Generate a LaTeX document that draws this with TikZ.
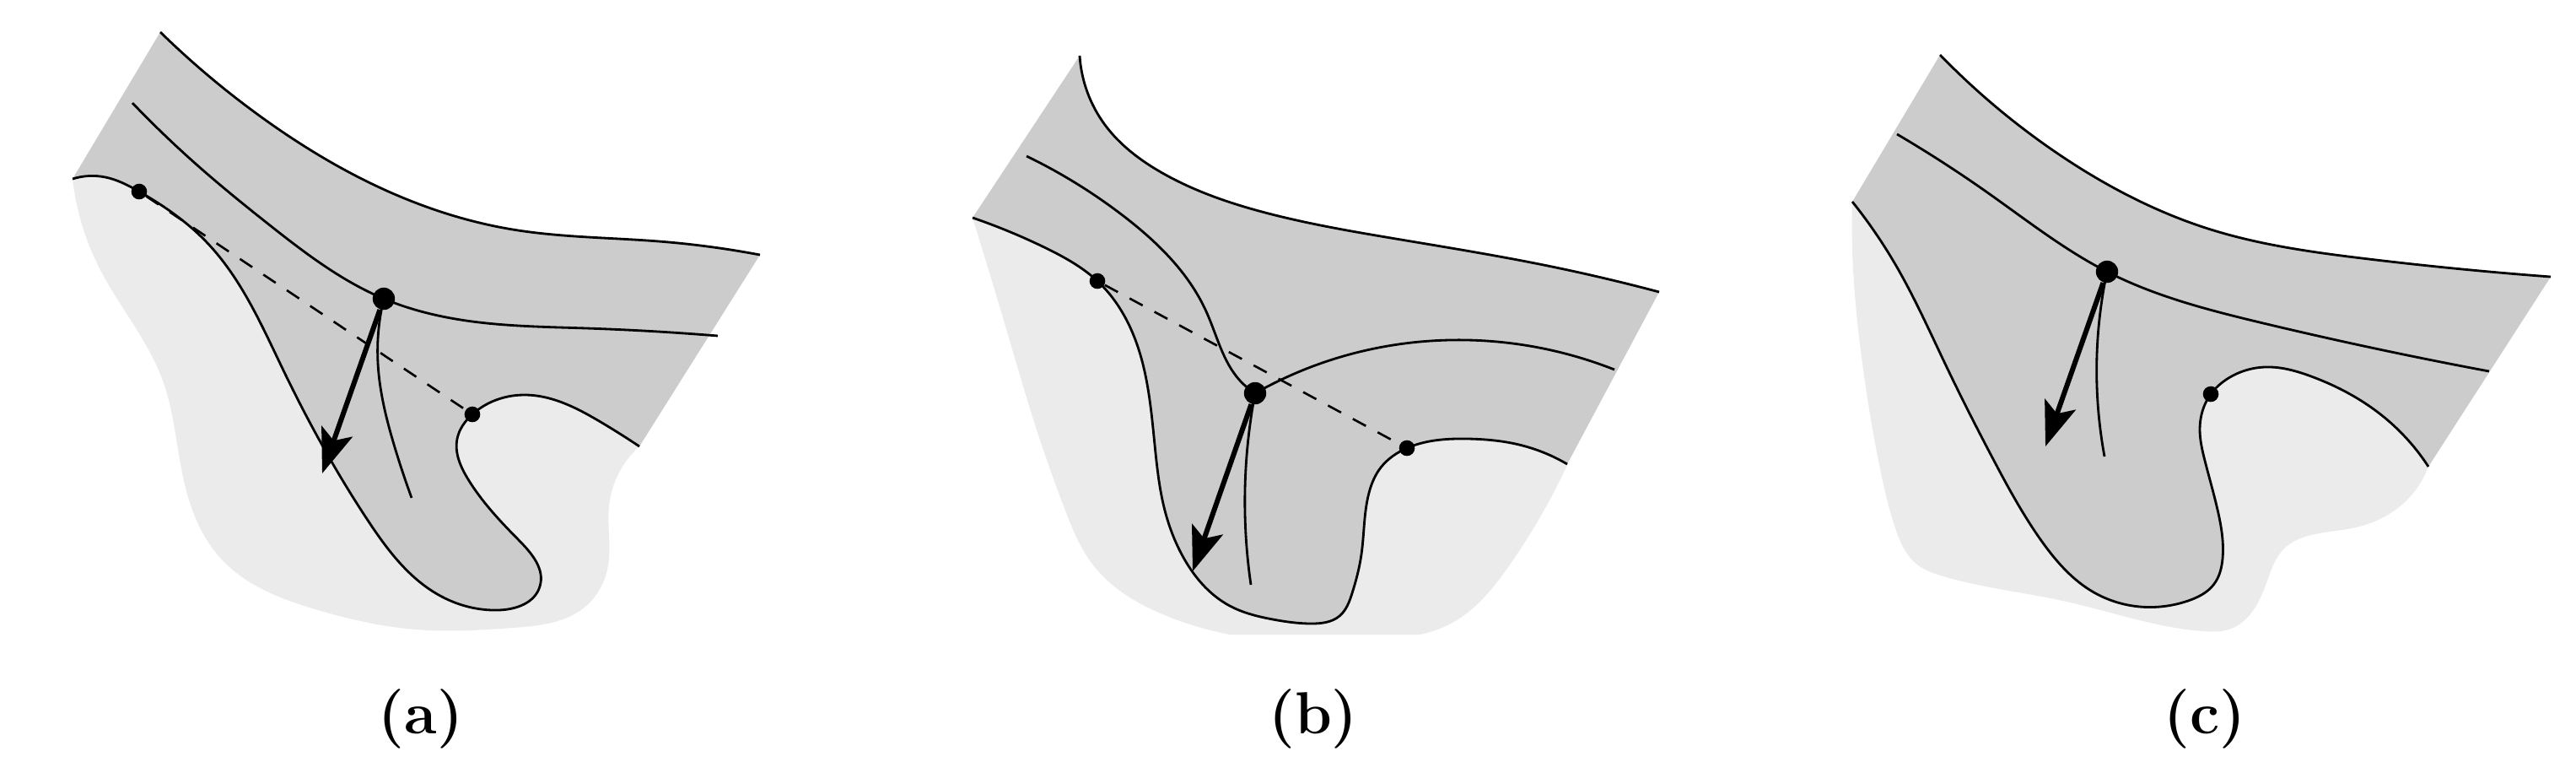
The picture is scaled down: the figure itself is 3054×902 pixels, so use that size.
\documentclass[tikz,border=0pt]{standalone}
\usetikzlibrary{arrows.meta,hobby}
\definecolor{darkfill}{HTML}{CCCCCC}
\definecolor{lightfill}{HTML}{EBEBEB}
\tikzset{
  curve/.style={line width=0.8pt, black, use Hobby shortcut},
  dashline/.style={line width=0.75pt, dash pattern=on 5pt off 4.5pt},
  vec/.style={line width=1.7pt, -{Stealth[length=15pt,width=11pt,inset=3.3pt]}},
  smalldot/.style={circle, fill=black, inner sep=0pt, minimum size=5.3pt},
  bigdot/.style={circle, fill=black, inner sep=0pt, minimum size=7.5pt},
  lab/.style={font=\fontsize{20}{24}\selectfont\bfseries},
  lightreg/.style={fill=lightfill, use Hobby shortcut},
  darkreg/.style={fill=darkfill, use Hobby shortcut}
}
\begin{document}
\begin{tikzpicture}[x=0.01cm,y=-0.01cm]
\useasboundingbox (0,0) rectangle (3054,902);
% ================= (a) =================
\coordinate (A1) at (165,227);
\coordinate (A2) at (455,354);
\coordinate (A3) at (560,491);
\coordinate (At) at (382,561);
\path[lightreg] (86,212) .. (118,318) .. (193,451) .. (219,574) .. (262,662) .. (377,723) .. (493,746) .. (608,744) .. (695,718) .. (721,670) .. (722,600) .. (758,529) -- (850,380) -- (300,200) -- cycle;
\path[darkreg] (86,212) .. (125,210) .. (A1) .. (245,287) .. (337,441) .. (435,615) .. (520,705) .. (591,723) .. (640,695) .. (615,640) .. (555,568) .. (542,520) .. (A3) .. (620,468) .. (712,500) .. (758,529) -- (901,302) .. (781,286) .. (608,272) .. (435,215) .. (320,146) .. (190,38) -- cycle;
\draw[curve] (901,302) .. (781,286) .. (608,272) .. (435,215) .. (320,146) .. (190,38);
\draw[curve] (86,212) .. (125,210) .. (A1) .. (245,287) .. (337,441) .. (435,615) .. (520,705) .. (591,723) .. (640,695) .. (615,640) .. (555,568) .. (542,520) .. (A3) .. (620,468) .. (712,500) .. (758,529);
\draw[curve] (157,122) .. (233,195) .. (320,267) .. (A2) .. (560,381) .. (695,389) .. (851,398);
\draw[curve] (A2) .. (448,430) .. (468,530) .. (488,590);
\node[smalldot] (a1) at (A1) {};
\node[bigdot] (a2) at (A2) {};
\node[smalldot] (a3) at (A3) {};
\draw[dashline] (a1) -- (a3);
\draw[vec] (a2) -- (At);
\node[lab] (la) at (499,852) {(a)};
% ================= (b) =================
\coordinate (B1) at (1301,333);
\coordinate (B2) at (1488,466);
\coordinate (B3) at (1668,531);
\coordinate (Bt) at (1414,677);
\path[lightreg] (1153,258) .. (1196,400) .. (1227,503) .. (1263,605) .. (1294,667) .. (1329,701) .. (1381,729) .. (1458,752) -- (1683,752) .. (1733,731) .. (1788,672) .. (1858,551) -- (1900,440) -- (1300,250) -- cycle;
\path[darkreg] (1153,258) .. (1240,294) .. (B1) .. (1345,400) .. (1370,537) .. (1381,605) .. (1401,657) .. (1458,718) .. (1509,734) .. (1555,739) .. (1588,730) .. (1603,703) .. (1614,657) .. (1622,588) .. (1637,554) .. (B3) .. (1740,520) .. (1801,527) .. (1858,550) -- (1967,346) .. (1830,314) .. (1649,282) .. (1500,252) .. (1378,205) .. (1310,148) .. (1280,66) -- cycle;
\draw[curve] (1967,346) .. (1830,314) .. (1649,282) .. (1500,252) .. (1378,205) .. (1310,148) .. (1280,66);
\draw[curve] (1153,258) .. (1240,294) .. (B1) .. (1345,400) .. (1370,537) .. (1381,605) .. (1401,657) .. (1458,718) .. (1509,734) .. (1555,739) .. (1588,730) .. (1603,703) .. (1614,657) .. (1622,588) .. (1637,554) .. (B3) .. (1740,520) .. (1801,527) .. (1858,550);
\draw[curve] (1217,185) .. (1332,256) .. (1430,369) .. (1470,451) .. (B2);
\draw[curve] (B2) .. (1586,424) .. (1740,403) .. (1914,438);
\draw[curve] (B2) .. (1476,580) .. (1483,693);
\node[smalldot] (b1) at (B1) {};
\node[bigdot] (b2) at (B2) {};
\node[smalldot] (b3) at (B3) {};
\draw[dashline] (b1) -- (b3);
\draw[vec] (b2) -- (Bt);
\node[lab] (lb) at (1557,852) {(b)};
% ================= (c) =================
\coordinate (C2) at (2498,322);
\coordinate (C3) at (2621,467);
\coordinate (Ct) at (2425,529);
\path[lightreg] (2196,239) .. (2196,296) .. (2208,431) .. (2227,546) .. (2246,623) .. (2273,669) .. (2304,683) .. (2450,713) .. (2612,748) .. (2645,745) .. (2670,725) .. (2688,688) .. (2708,650) .. (2740,634) .. (2797,624) .. (2856,590) .. (2879,553) -- (2940,440) -- (2300,230) -- cycle;
\path[darkreg] (2196,239) .. (2248,315) .. (2306,431) .. (2364,546) .. (2421,642) .. (2479,700) .. (2537,719) .. (2594,712) .. (2625,692) .. (2635,662) .. (2629,604) .. (2614,546) .. (2608,508) .. (C3) .. (2639,450) .. (2685,435) .. (2740,446) .. (2826,494) .. (2879,553) -- (3024,328) .. (2800,306) .. (2621,272) .. (2444,185) .. (2300,65) -- cycle;
\draw[curve] (3024,328) .. (2800,306) .. (2621,272) .. (2444,185) .. (2300,65);
\draw[curve] (2196,239) .. (2248,315) .. (2306,431) .. (2364,546) .. (2421,642) .. (2479,700) .. (2537,719) .. (2594,712) .. (2625,692) .. (2635,662) .. (2629,604) .. (2614,546) .. (2608,508) .. (C3) .. (2639,450) .. (2685,435) .. (2740,446) .. (2826,494) .. (2879,553);
\draw[curve] (2249,159) .. (2356,228) .. (C2) .. (2679,382) .. (2951,440);
\draw[curve] (C2) .. (2486,420) .. (2495,541);
\node[bigdot] (c2) at (C2) {};
\node[smalldot] (c3) at (C3) {};
\draw[vec] (c2) -- (Ct);
\node[lab] (lc) at (2614,852) {(c)};
\end{tikzpicture}
\end{document}
